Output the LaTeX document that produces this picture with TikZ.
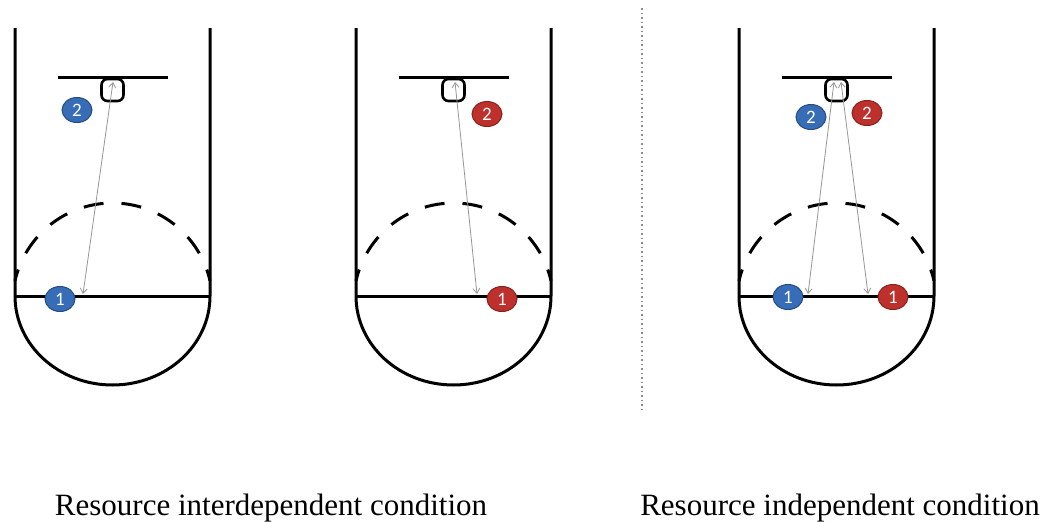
\documentclass[tikz,border=0pt]{standalone}
\usepackage{fontspec}
\setmainfont{Liberation Serif}
\newfontfamily\badgefont{Carlito}
\usetikzlibrary{arrows.meta,shapes.geometric}
\definecolor{teamblue}{RGB}{55,108,182}
\definecolor{teamred}{RGB}{190,48,44}
\definecolor{shotgray}{RGB}{150,150,150}
\definecolor{sepgray}{RGB}{140,140,140}

\tikzset{
  courtline/.style={line width=3pt, black},
  arcline/.style={line width=3pt, dash pattern=on 20pt off 18pt, dash phase=29pt},
  rimbox/.style={draw, line width=2.6pt, rounded corners=6pt,
    minimum width=22pt, minimum height=22pt, inner sep=0pt},
  badge/.style={ellipse, fill=#1, draw=#1!70!black, line width=1pt,
    minimum width=30pt, minimum height=25pt, inner sep=0pt, text=white,
    font=\badgefont\fontsize{19}{19}\selectfont},
  shot/.style={draw=shotgray, line width=0.8pt,
    {Straight Barb[length=5pt,width=7pt]}-{Straight Barb[length=5pt,width=7pt]}},
  sepline/.style={draw=sepgray, line width=1.2pt, dash pattern=on 1.5pt off 3pt},
  caption/.style={font=\fontsize{31}{36}\selectfont, anchor=base, inner sep=0pt},
  % one half court: side lines, centre line with the circle below,
  % backboard, rim and the dashed three-point arc
  court/.pic={
    \draw[courtline] (0,28) -- (0,296)
      arc[start angle=180, end angle=0, x radius=97.5, y radius=89]
      -- (195,28);
    \draw[courtline] (0,296) -- (195,296);
    \draw[courtline] (42.5,77) -- (152.5,77);
    \node[rimbox] (-rim) at (97.5,90) {};
    \draw[arcline] (97.5,203) arc[start angle=-90, end angle=-167.2, radius=100];
    \draw[arcline] (97.5,203) arc[start angle=-90, end angle=-12.8, radius=100];
  }
}

\begin{document}
\begin{tikzpicture}[x=1pt, y=-1pt]
  \fill[white] (0,0) rectangle (1061,522);
  \useasboundingbox (0,0) rectangle (1061,522);

  % three courts
  \pic (A) at (15,0) {court};
  \pic (B) at (356,0) {court};
  \pic (C) at (739,0) {court};

  % separator between the two conditions
  \coordinate (sepTop) at (642,8);
  \coordinate (sepBot) at (642,412);
  \draw[sepline] (sepTop) -- (sepBot);

  % passes from the rim to the shooters
  \coordinate (A-from) at (113,82);
  \coordinate (A-to) at (83,294);
  \draw[shot] (A-from) -- (A-to);

  \coordinate (B-from) at (455,82);
  \coordinate (B-to) at (477,294);
  \draw[shot] (B-from) -- (B-to);

  \coordinate (C-fromL) at (834,82);
  \coordinate (C-toL) at (808,294);
  \draw[shot] (C-fromL) -- (C-toL);
  \coordinate (C-fromR) at (841,82);
  \coordinate (C-toR) at (868,294);
  \draw[shot] (C-fromR) -- (C-toR);

  % players
  \node[badge=teamblue] (A2) at (77,110) {2};
  \node[badge=teamblue] (A1) at (60,299) {1};

  \node[badge=teamred] (B2) at (487,114) {2};
  \node[badge=teamred] (B1) at (502,299) {1};

  \node[badge=teamblue] (C2b) at (811,117) {2};
  \node[badge=teamred] (C2r) at (867,113) {2};
  \node[badge=teamblue] (C1b) at (788,297) {1};
  \node[badge=teamred] (C1r) at (893,297) {1};

  % condition labels
  \node[caption] (capInter) at (271,515) {Resource interdependent condition};
  \node[caption] (capIndep) at (840,515) {Resource independent condition};
\end{tikzpicture}
\end{document}
